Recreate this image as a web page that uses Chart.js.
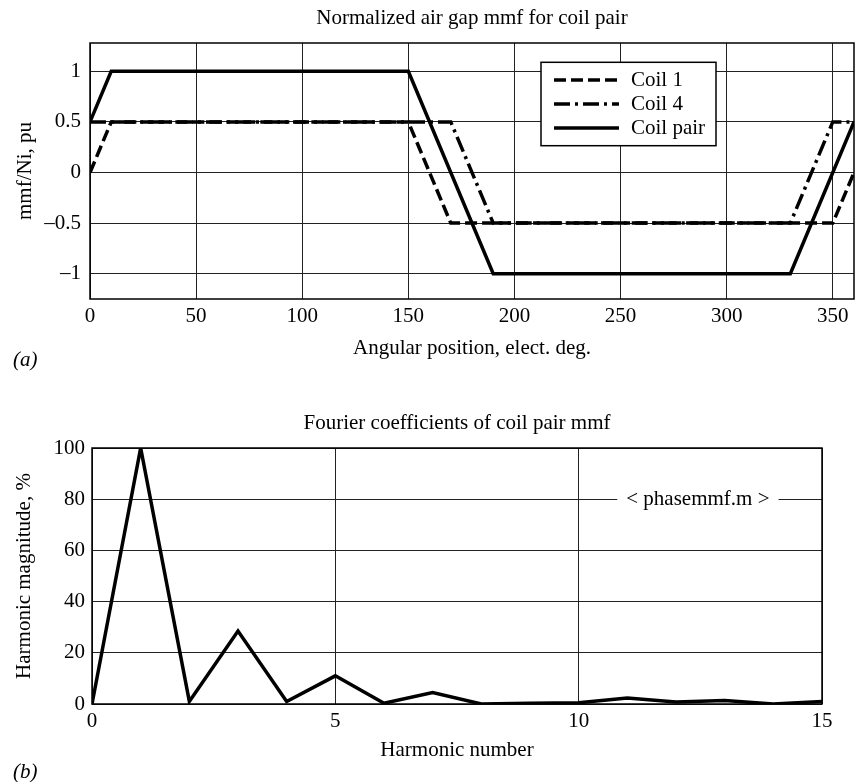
<!doctype html>
<html lang="en">
  <head>
    <meta charset="UTF-8" />
    <title>Coil pair mmf and harmonics</title>
    <script src="https://cdn.jsdelivr.net/npm/chart.js"></script>
    <style>
      body { margin: 0; background: #fff; }
      .panel { position: absolute; left: 0; width: 856px; }
      #mmfPanel { top: 0; height: 380px; }
      #fourierPanel { top: 380px; height: 402px; }
    </style>
  </head>
  <body>
    <div class="panel" id="mmfPanel"><canvas id="mmfChart" width="856" height="380"></canvas></div>
    <div class="panel" id="fourierPanel"><canvas id="fourierChart" width="856" height="402"></canvas></div>

    <script>
      // (a) air gap mmf, breakpoints in electrical degrees
      const angleCoil1 = [0, 10, 150, 170, 350, 360]
      const mmfCoil1 = [0, 0.5, 0.5, -0.5, -0.5, 0]
      const angleCoil4 = [0, 170, 190, 330, 350, 360]
      const mmfCoil4 = [0.5, 0.5, -0.5, -0.5, 0.5, 0.5]
      const anglePair = [0, 10, 150, 190, 330, 360]
      const mmfPair = [0.5, 1, 1, -1, -1, 0.5]
      const angleTicks = [0, 50, 100, 150, 200, 250, 300, 350]
      const mmfTicks = [-1, -0.5, 0, 0.5, 1]

      // (b) harmonic content of the coil pair mmf, percent of fundamental
      const harmonicNumber = [0, 1, 2, 3, 4, 5, 6, 7, 8, 9, 10, 11, 12, 13, 14, 15]
      const harmonicMagnitude = [0, 100, 1, 28.5, 1, 11, 0.3, 4.5, 0, 0.3, 0.5, 2.3, 0.8, 1.4, 0, 1]
      const harmonicTicks = [0, 5, 10, 15]
      const magnitudeTicks = [0, 20, 40, 60, 80, 100]

      const serif = '"Liberation Serif", "Times New Roman", serif'
      Chart.defaults.font.family = serif
      Chart.defaults.font.size = 21
      Chart.defaults.color = '#000'

      const pts = (xs, ys) => xs.map((x, i) => ({ x, y: ys[i] }))
      const dash = (v) => String(v).replace('-', '\u2013')

      // black box round the plot area
      const frame = {
        id: 'frame',
        afterDraw(chart) {
          const { ctx, chartArea: a } = chart
          ctx.save()
          ctx.strokeStyle = '#000'
          ctx.lineWidth = 1.5
          ctx.strokeRect(a.left, a.top, a.right - a.left, a.bottom - a.top)
          ctx.restore()
        },
      }

      // "(a)" / "(b)" tag under each panel
      const panelTag = {
        id: 'panelTag',
        afterDraw(chart, args, opts) {
          const { ctx } = chart
          ctx.save()
          ctx.font = `italic 21px ${serif}`
          ctx.fillStyle = '#000'
          ctx.textBaseline = 'middle'
          ctx.fillText(opts.text, opts.x, opts.y)
          ctx.restore()
        },
      }

      // boxed legend inside the plot, drawn from the dataset styles
      const boxLegend = {
        id: 'boxLegend',
        afterDraw(chart, args, opts) {
          const { ctx, chartArea: a } = chart
          const left = a.right - opts.right - opts.width
          const top = a.top + opts.top
          ctx.save()
          ctx.fillStyle = '#fff'
          ctx.fillRect(left, top, opts.width, opts.height)
          ctx.strokeStyle = '#000'
          ctx.lineWidth = 1.5
          ctx.strokeRect(left, top, opts.width, opts.height)
          ctx.font = `21px ${serif}`
          ctx.textBaseline = 'middle'
          chart.data.datasets.forEach((ds, i) => {
            const y = top + opts.firstRow + i * opts.rowStep
            ctx.beginPath()
            ctx.setLineDash(ds.borderDash || [])
            ctx.lineWidth = ds.borderWidth
            ctx.strokeStyle = ds.borderColor
            ctx.moveTo(left + 13, y)
            ctx.lineTo(left + 78, y)
            ctx.stroke()
            ctx.setLineDash([])
            ctx.fillStyle = '#000'
            ctx.fillText(ds.label, left + 90, y)
          })
          ctx.restore()
        },
      }

      // text label sitting on a grid line, with the line cleared behind it
      const gridNote = {
        id: 'gridNote',
        afterDatasetsDraw(chart, args, opts) {
          const { ctx, scales } = chart
          const cx = scales.x.getPixelForValue(opts.x)
          const cy = scales.y.getPixelForValue(opts.y)
          ctx.save()
          ctx.font = `21px ${serif}`
          const w = ctx.measureText(opts.text).width
          ctx.fillStyle = '#fff'
          ctx.fillRect(cx - w / 2 - opts.gap, cy - 3, w + 2 * opts.gap, 6)
          ctx.fillStyle = '#000'
          ctx.textAlign = 'center'
          ctx.textBaseline = 'middle'
          ctx.fillText(opts.text, cx, cy)
          ctx.restore()
        },
      }

      const lineStyle = { borderColor: '#000', borderWidth: 3.5, pointRadius: 0, tension: 0, fill: false }
      const gridStyle = { color: '#222', lineWidth: 1, drawTicks: false }

      new Chart(document.getElementById('mmfChart'), {
        type: 'line',
        data: {
          datasets: [
            { label: 'Coil 1', data: pts(angleCoil1, mmfCoil1), borderDash: [12, 5], ...lineStyle },
            { label: 'Coil 4', data: pts(angleCoil4, mmfCoil4), borderDash: [16, 5, 3, 5], ...lineStyle },
            { label: 'Coil pair', data: pts(anglePair, mmfPair), ...lineStyle },
          ],
        },
        options: {
          responsive: false,
          animation: false,
          devicePixelRatio: 1,
          layout: { padding: { left: 0, right: 2, top: 0, bottom: 0 } },
          scales: {
            x: {
              type: 'linear',
              min: 0,
              max: 360,
              afterBuildTicks: (s) => { s.ticks = angleTicks.map((v) => ({ value: v })) },
              afterFit: (s) => { s.height = 81 },
              ticks: { padding: 5, maxRotation: 0 },
              grid: gridStyle,
              border: { display: false },
              title: { display: true, text: 'Angular position, elect. deg.', padding: { top: 0, bottom: 19.4 } },
            },
            y: {
              min: -1.25,
              max: 1.28,
              afterBuildTicks: (s) => { s.ticks = mmfTicks.map((v) => ({ value: v })) },
              afterFit: (s) => { s.width = 90 },
              ticks: { padding: 9, callback: dash },
              grid: gridStyle,
              border: { display: false },
              title: { display: true, text: 'mmf/Ni, pu', padding: { top: 12.4, bottom: 0 } },
            },
          },
          plugins: {
            legend: { display: false },
            tooltip: { enabled: false },
            title: {
              display: true,
              text: 'Normalized air gap mmf for coil pair',
              fullSize: false,
              font: { size: 21, weight: 'normal' },
              padding: { top: 5.4, bottom: 12.4 },
            },
            boxLegend: { right: 138, top: 19.3, width: 175, height: 83.4, firstRow: 17.7, rowStep: 24 },
            panelTag: { text: '(a)', x: 13, y: 360 },
          },
        },
        plugins: [frame, boxLegend, panelTag],
      })

      new Chart(document.getElementById('fourierChart'), {
        type: 'line',
        data: {
          datasets: [{ label: 'Coil pair', data: pts(harmonicNumber, harmonicMagnitude), ...lineStyle }],
        },
        options: {
          responsive: false,
          animation: false,
          devicePixelRatio: 1,
          layout: { padding: { left: 0, right: 34, top: 0, bottom: 0 } },
          scales: {
            x: {
              type: 'linear',
              min: 0,
              max: 15,
              afterBuildTicks: (s) => { s.ticks = harmonicTicks.map((v) => ({ value: v })) },
              afterFit: (s) => { s.height = 78 },
              ticks: { padding: 5, maxRotation: 0 },
              grid: gridStyle,
              border: { display: false },
              title: { display: true, text: 'Harmonic number', padding: { top: 0, bottom: 19.4 } },
            },
            y: {
              min: 0,
              max: 100,
              afterBuildTicks: (s) => { s.ticks = magnitudeTicks.map((v) => ({ value: v })) },
              afterFit: (s) => { s.width = 92 },
              ticks: { padding: 7 },
              grid: gridStyle,
              border: { display: false },
              title: { display: true, text: 'Harmonic magnitude, %', padding: { top: 11.4, bottom: 0 } },
            },
          },
          plugins: {
            legend: { display: false },
            tooltip: { enabled: false },
            title: {
              display: true,
              text: 'Fourier coefficients of coil pair mmf',
              fullSize: false,
              font: { size: 21, weight: 'normal' },
              padding: { top: 30.4, bottom: 12.4 },
            },
            gridNote: { text: '< phasemmf.m >', x: 12.45, y: 80, gap: 9 },
            panelTag: { text: '(b)', x: 13, y: 392 },
          },
        },
        plugins: [frame, gridNote, panelTag],
      })
    </script>
  </body>
</html>
